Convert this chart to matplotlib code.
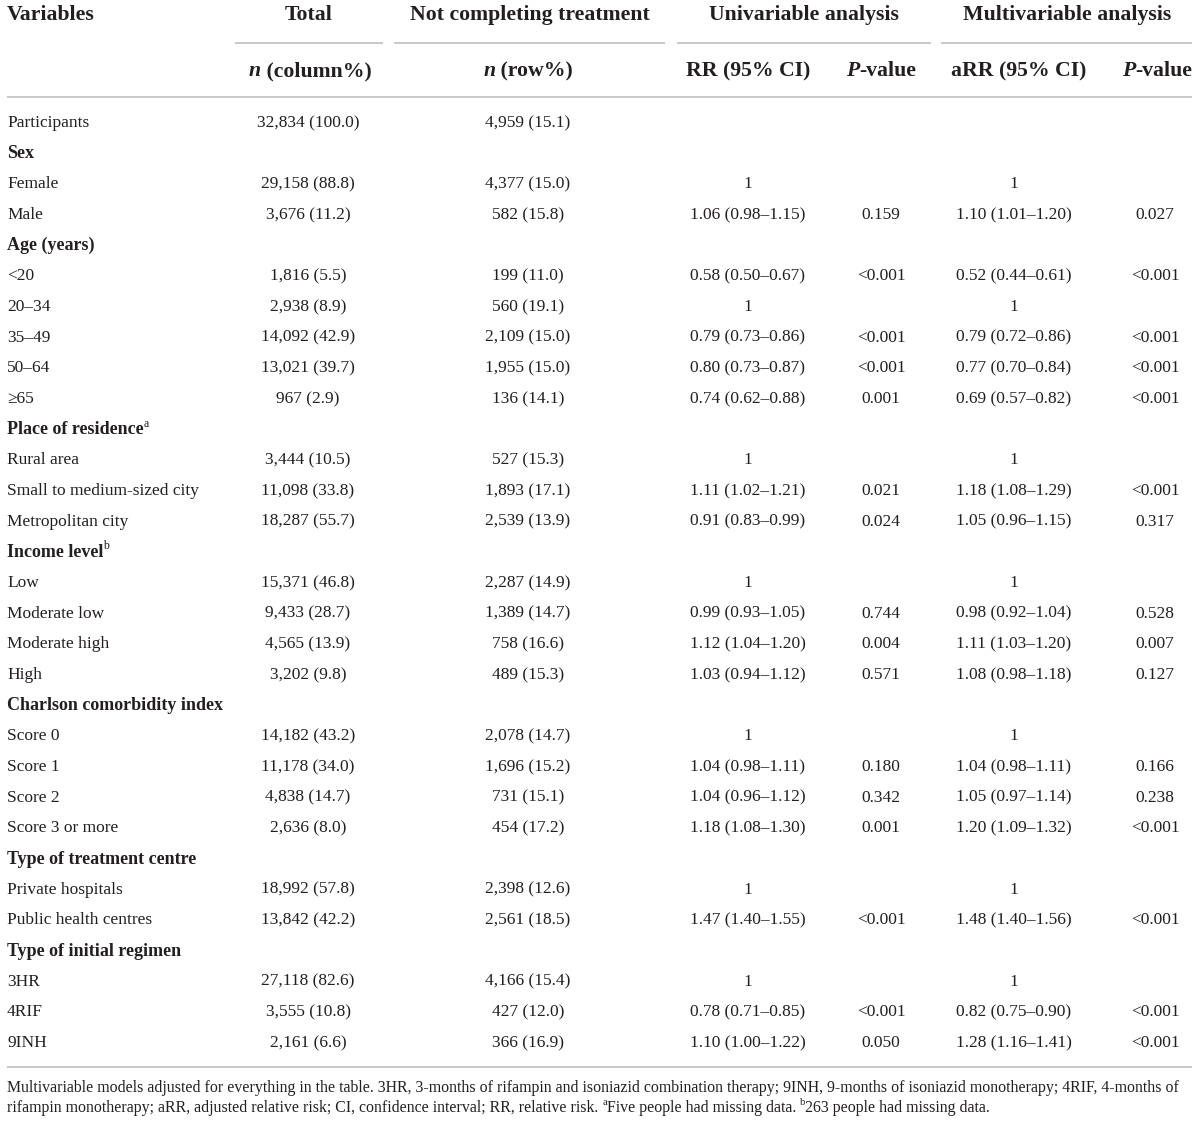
import matplotlib
matplotlib.use("Agg")
import matplotlib.pyplot as plt

plt.rcParams['font.family'] = ['Liberation Serif', 'DejaVu Serif']

INK = '#231f20'
RULE = '#c4c4c4'

# ---- table data ----
variables = ['Participants', 'Sex', 'Female', 'Male', 'Age (years)', '<20', '20–34', '35–49',
             '50–64', '≥65', 'Place of residence', 'Rural area', 'Small to medium-sized city',
             'Metropolitan city', 'Income level', 'Low', 'Moderate low', 'Moderate high', 'High',
             'Charlson comorbidity index', 'Score 0', 'Score 1', 'Score 2', 'Score 3 or more',
             'Type of treatment centre', 'Private hospitals', 'Public health centres',
             'Type of initial regimen', '3HR', '4RIF', '9INH']
section = {'Sex': '', 'Age (years)': '', 'Place of residence': 'a', 'Income level': 'b',
           'Charlson comorbidity index': '', 'Type of treatment centre': '',
           'Type of initial regimen': ''}
total = ['32,834 (100.0)', '', '29,158 (88.8)', '3,676 (11.2)', '', '1,816 (5.5)', '2,938 (8.9)',
         '14,092 (42.9)', '13,021 (39.7)', '967 (2.9)', '', '3,444 (10.5)', '11,098 (33.8)',
         '18,287 (55.7)', '', '15,371 (46.8)', '9,433 (28.7)', '4,565 (13.9)', '3,202 (9.8)', '',
         '14,182 (43.2)', '11,178 (34.0)', '4,838 (14.7)', '2,636 (8.0)', '', '18,992 (57.8)',
         '13,842 (42.2)', '', '27,118 (82.6)', '3,555 (10.8)', '2,161 (6.6)']
not_completing = ['4,959 (15.1)', '', '4,377 (15.0)', '582 (15.8)', '', '199 (11.0)', '560 (19.1)',
                  '2,109 (15.0)', '1,955 (15.0)', '136 (14.1)', '', '527 (15.3)', '1,893 (17.1)',
                  '2,539 (13.9)', '', '2,287 (14.9)', '1,389 (14.7)', '758 (16.6)', '489 (15.3)', '',
                  '2,078 (14.7)', '1,696 (15.2)', '731 (15.1)', '454 (17.2)', '', '2,398 (12.6)',
                  '2,561 (18.5)', '', '4,166 (15.4)', '427 (12.0)', '366 (16.9)']
rr = ['', '', '1', '1.06 (0.98–1.15)', '', '0.58 (0.50–0.67)', '1', '0.79 (0.73–0.86)',
      '0.80 (0.73–0.87)', '0.74 (0.62–0.88)', '', '1', '1.11 (1.02–1.21)', '0.91 (0.83–0.99)', '',
      '1', '0.99 (0.93–1.05)', '1.12 (1.04–1.20)', '1.03 (0.94–1.12)', '', '1', '1.04 (0.98–1.11)',
      '1.04 (0.96–1.12)', '1.18 (1.08–1.30)', '', '1', '1.47 (1.40–1.55)', '', '1',
      '0.78 (0.71–0.85)', '1.10 (1.00–1.22)']
p_uni = ['', '', '', '0.159', '', '<0.001', '', '<0.001', '<0.001', '0.001', '', '', '0.021',
         '0.024', '', '', '0.744', '0.004', '0.571', '', '', '0.180', '0.342', '0.001', '', '',
         '<0.001', '', '', '<0.001', '0.050']
arr = ['', '', '1', '1.10 (1.01–1.20)', '', '0.52 (0.44–0.61)', '1', '0.79 (0.72–0.86)',
       '0.77 (0.70–0.84)', '0.69 (0.57–0.82)', '', '1', '1.18 (1.08–1.29)', '1.05 (0.96–1.15)', '',
       '1', '0.98 (0.92–1.04)', '1.11 (1.03–1.20)', '1.08 (0.98–1.18)', '', '1', '1.04 (0.98–1.11)',
       '1.05 (0.97–1.14)', '1.20 (1.09–1.32)', '', '1', '1.48 (1.40–1.56)', '', '1',
       '0.82 (0.75–0.90)', '1.28 (1.16–1.41)']
p_multi = ['', '', '', '0.027', '', '<0.001', '', '<0.001', '<0.001', '<0.001', '', '', '<0.001',
           '0.317', '', '', '0.528', '0.007', '0.127', '', '', '0.166', '0.238', '<0.001', '', '',
           '<0.001', '', '', '<0.001', '<0.001']

footnote1 = ('Multivariable models adjusted for everything in the table. 3HR, 3-months of rifampin '
             'and isoniazid combination therapy; 9INH, 9-months of isoniazid monotherapy; 4RIF, 4-months of')
footnote2 = [('rifampin monotherapy; aRR, adjusted relative risk; CI, confidence interval; RR, relative risk. ', False),
             ('a', True), ('Five people had missing data. ', False), ('b', True),
             ('263 people had missing data.', False)]

# ---- figure in pixel coordinates ----
fig = plt.figure(figsize=(12, 11.23), dpi=100)
ax = fig.add_axes([0, 0, 1, 1])
ax.set_xlim(0, 1200)
ax.set_ylim(1123, 0)
ax.axis('off')
renderer = fig.canvas.get_renderer()

HEAD = 15.7
BODY = 12.5


def runs(x, y, parts, ha='left', size=BODY):
    """draw a line made of several differently styled pieces"""
    objs = []
    for s, props in parts:
        p = dict(props)
        sup = p.pop('sup', False)
        fs = size * 0.65 if sup else size
        t = ax.text(0, y - (size * 0.45 if sup else 0), s, va='center', ha='left',
                    fontsize=fs, color=INK, **p)
        objs.append(t)
    widths = [t.get_window_extent(renderer).width for t in objs]
    cur = x - sum(widths) / 2 if ha == 'center' else x
    for t, w in zip(objs, widths):
        t.set_x(cur)
        cur += w
    return sum(widths)


# header
hy1, hy2 = 15, 71
ax.text(7, hy1, 'Variables', fontsize=HEAD, fontweight='bold', color=INK, va='center')
groups = [('Total', 309, 235, 383), ('Not completing treatment', 530, 394, 665),
          ('Univariable analysis', 804, 677, 931), ('Multivariable analysis', 1067, 941, 1192)]
for name, cx, x0, x1 in groups:
    ax.text(cx, hy1, name, fontsize=HEAD, fontweight='bold', color=INK, ha='center', va='center')
    ax.plot([x0, x1], [43, 43], color=RULE, lw=1.3, solid_capstyle='butt')

bi = {'fontweight': 'bold', 'fontstyle': 'italic'}
bd = {'fontweight': 'bold'}
runs(310, hy2, [('n', bi), (' (column%)', bd)], ha='center', size=HEAD)
runs(528, hy2, [('n', bi), (' (row%)', bd)], ha='center', size=HEAD)
ax.text(748, hy2, 'RR (95% CI)', fontsize=HEAD, fontweight='bold', color=INK, ha='center', va='center')
runs(881, hy2, [('P', bi), ('-value', bd)], ha='center', size=HEAD)
ax.text(1019, hy2, 'aRR (95% CI)', fontsize=HEAD, fontweight='bold', color=INK, ha='center', va='center')
runs(1157, hy2, [('P', bi), ('-value', bd)], ha='center', size=HEAD)

ax.plot([7, 1192], [97, 97], color=RULE, lw=1.3, solid_capstyle='butt')

# body rows
y0, step = 123, (1043 - 123) / 30
col_x = [308, 528, 748, 881, 1014, 1155]
columns = [total, not_completing, rr, p_uni, arr, p_multi]
for i, lab in enumerate(variables):
    y = y0 + i * step
    if lab in section:
        parts = [(lab, bd)]
        if section[lab]:
            parts.append((section[lab], {'sup': True}))
        runs(7, y, parts, size=BODY + 0.5)
        continue
    ax.text(7, y, lab, fontsize=BODY, color=INK, va='center')
    for cx, col in zip(col_x, columns):
        if col[i]:
            ax.text(cx, y, col[i], fontsize=BODY, color=INK, ha='center', va='center')

ax.plot([7, 1192], [1067, 1067], color=RULE, lw=1.3, solid_capstyle='butt')

# footnote, sized to fill the text width
fn = ax.text(7, 1088, footnote1, fontsize=11, color=INK, va='center')
w = fn.get_window_extent(renderer).width
fsz = 11 * (1180 - 7) / w
fn.set_fontsize(fsz)
runs(7, 1108, [(s, {'sup': True} if sup else {}) for s, sup in footnote2], size=fsz)

fig.savefig('out.png', dpi=100, facecolor='white')
